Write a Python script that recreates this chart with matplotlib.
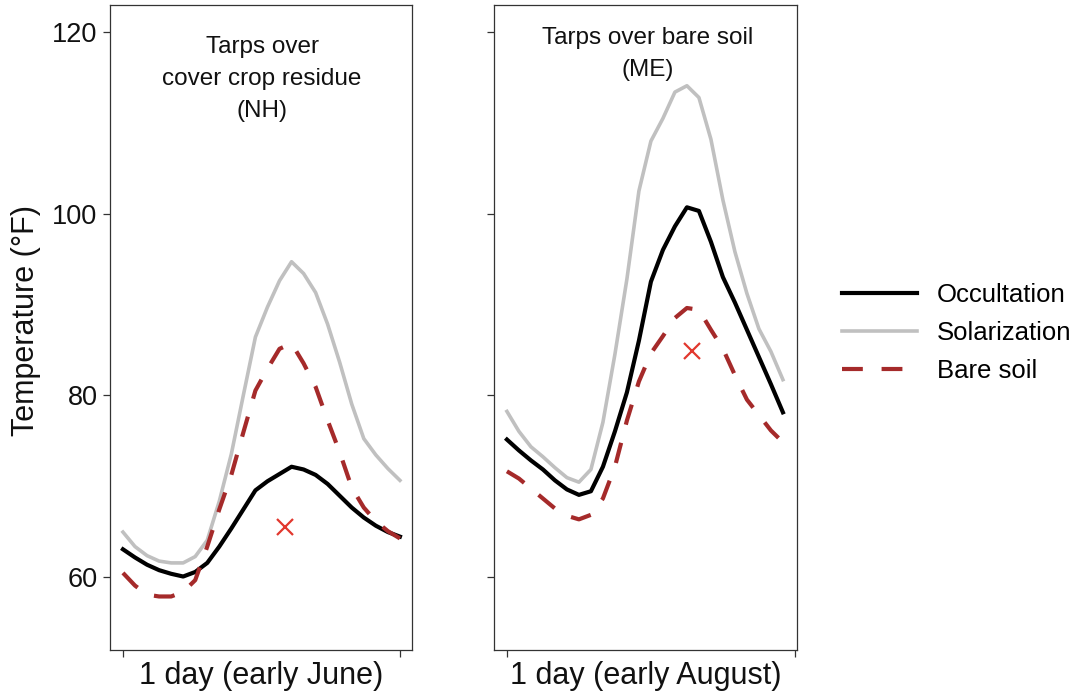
import matplotlib.pyplot as plt

plt.rcParams['font.family'] = ['Liberation Sans', 'DejaVu Sans']

hours = list(range(24))

# early June, NH (tarps over cover crop residue)
june_occultation = [63.0, 62.1, 61.3, 60.7, 60.3, 60.0, 60.5, 61.5, 63.3, 65.3, 67.4, 69.5,
                    70.5, 71.3, 72.1, 71.8, 71.2, 70.2, 68.9, 67.6, 66.5, 65.6, 64.9, 64.4]
june_solarization = [64.9, 63.3, 62.3, 61.7, 61.5, 61.5, 62.2, 64.0, 68.3, 73.5, 80.0, 86.4,
                     89.7, 92.6, 94.7, 93.4, 91.3, 87.8, 83.6, 79.0, 75.2, 73.4, 71.9, 70.6]
june_bare = [60.4, 59.0, 58.0, 57.8, 57.8, 58.3, 59.6, 63.3, 67.4, 71.2, 75.9, 80.5,
             82.9, 85.1, 85.7, 83.5, 80.9, 77.2, 73.7, 69.8, 67.6, 66.1, 65.0, 64.2]
june_x = (13.45, 65.5)

# early August, ME (tarps over bare soil)
aug_occultation = [75.1, 73.9, 72.8, 71.8, 70.6, 69.6, 69.0, 69.4, 72.1, 76.0, 80.3, 86.0,
                   92.5, 96.0, 98.6, 100.7, 100.3, 96.9, 93.0, 90.2, 87.2, 84.2, 81.2, 78.1]
aug_solarization = [78.2, 76.0, 74.3, 73.2, 72.0, 70.9, 70.4, 71.8, 77.0, 84.5, 92.8, 102.5,
                    108.0, 110.5, 113.4, 114.1, 112.8, 108.2, 101.5, 95.8, 91.2, 87.3, 84.8, 81.7]
aug_bare = [71.6, 70.8, 69.7, 68.6, 67.5, 66.7, 66.3, 66.8, 68.6, 72.1, 77.2, 81.5,
            84.6, 86.5, 88.5, 89.6, 89.4, 87.2, 85.1, 82.2, 79.5, 77.8, 76.1, 74.8]
aug_x = (15.4, 84.9)

labels = ['Occultation', 'Solarization', 'Bare soil']
yticks = [60, 80, 100, 120]

fig = plt.figure(figsize=(10.79, 6.96), dpi=100)
ax1 = fig.add_axes([0.1019, 0.0661, 0.2799, 0.9267])
ax2 = fig.add_axes([0.4578, 0.0661, 0.2808, 0.9267])


def draw_panel(ax, occ, sol, bare, mark, title, tx, ty, xlabel, xticks, xmax):
    ax.plot(hours, occ, color='black', lw=3.0, label=labels[0])
    ax.plot(hours, sol, color='#c0c0c0', lw=2.6, label=labels[1])
    ax.plot(hours, bare, color='#a52a2a', lw=3.0, linestyle=(0, (5, 4.5)), label=labels[2])
    ax.plot(mark[0], mark[1], marker='x', color='#e2382e', markersize=12, mew=1.6, linestyle='none')
    ax.text(tx, ty, title, ha='center', va='top', fontsize=17.5, color='#111111',
            linespacing=1.6)
    ax.set_xlim(-1.08, xmax)
    ax.set_ylim(51.9, 123.0)
    ax.set_xticks(xticks)
    ax.set_xticklabels(['', ''])
    ax.set_yticks(yticks)
    ax.set_xlabel(xlabel, fontsize=22, color='#111111', labelpad=-1)
    for s in ax.spines.values():
        s.set_color('#333333')
        s.set_linewidth(0.9)
    ax.tick_params(colors='#333333', labelcolor='#111111', labelsize=19.5,
                   length=5, width=0.9, pad=4)


draw_panel(ax1, june_occultation, june_solarization, june_bare, june_x,
           'Tarps over\ncover crop residue\n(NH)', 11.55, 119.6,
           '1 day (early June)', [0, 23], 24.0)
draw_panel(ax2, aug_occultation, aug_solarization, aug_bare, aug_x,
           'Tarps over bare soil\n(ME)', 11.7, 120.6,
           '1 day (early August)', [0, 24], 24.17)
ax2.set_yticklabels([])

fig.text(0.024, 0.540, 'Temperature (°F)', rotation=90, ha='center', va='center',
         fontsize=22, color='#111111')

handles, names = ax1.get_legend_handles_labels()
fig.legend(handles, names, loc='center left', bbox_to_anchor=(842 / 1079, 1 - 333 / 696),
           frameon=False, fontsize=18.5, handlelength=2.9, handletextpad=0.8,
           labelspacing=0.55, borderpad=0, borderaxespad=0)

fig.savefig('out.png', dpi=100)
